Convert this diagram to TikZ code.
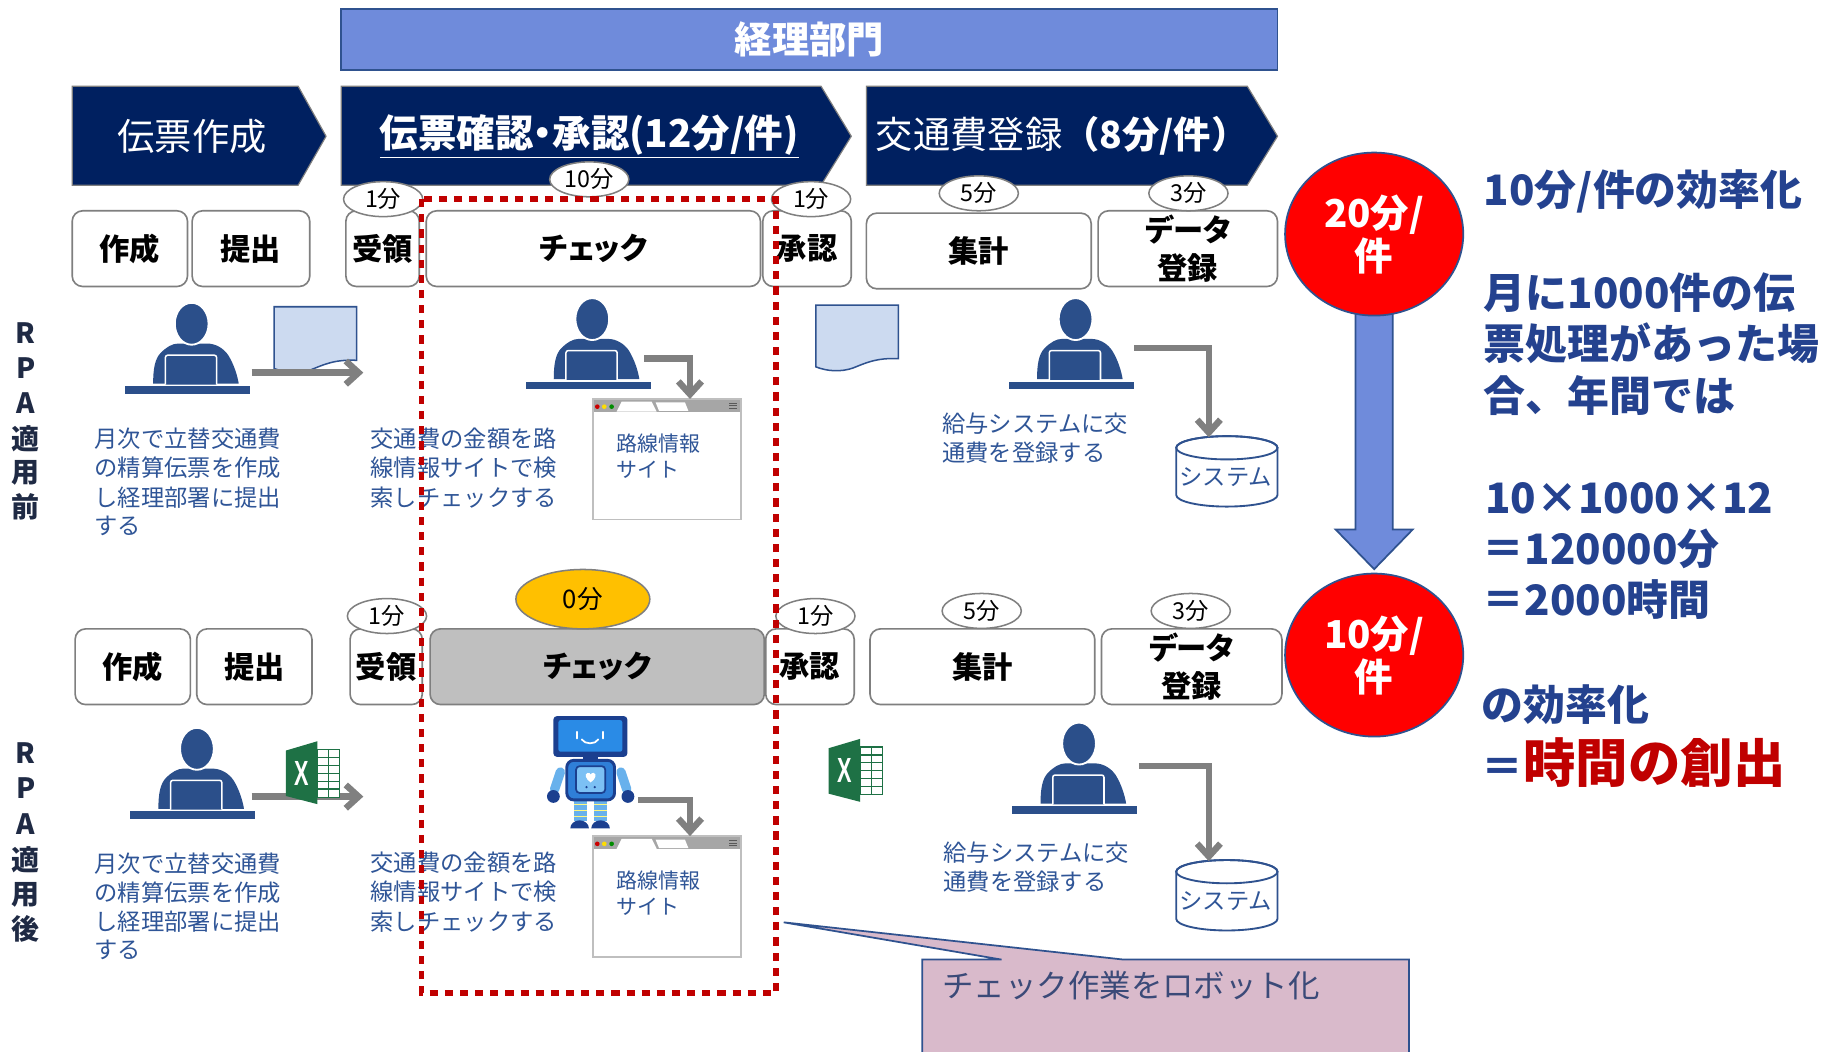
\documentclass[tikz,border=0pt]{standalone}
\usepackage{fontspec}
\setmainfont{Noto Sans CJK JP}
\newfontfamily\jpp{Noto Sans CJK JP}[RawFeature=+palt]
\newfontfamily\xlfont{Liberation Sans}
\usetikzlibrary{arrows.meta,shapes.geometric,calc}
\pgfdeclarelayer{back}
\pgfdeclarelayer{under}
\pgfsetlayers{back,under,main}

\definecolor{navyband}{HTML}{002060}
\definecolor{bannerblue}{HTML}{6F8BDB}
\definecolor{edgeblue}{HTML}{2F528F}
\definecolor{iconnavy}{HTML}{2B4F8A}
\definecolor{desctext}{HTML}{2F5597}
\definecolor{boxgray}{HTML}{7F7F7F}
\definecolor{arrowgray}{HTML}{808080}
\definecolor{checkred}{HTML}{C00000}
\definecolor{gold}{HTML}{FFC000}
\definecolor{docfill}{HTML}{CCDAF0}
\definecolor{bigtext}{HTML}{24428F}
\definecolor{calloutpink}{HTML}{D9BACB}
\definecolor{callouttext}{HTML}{3B4A78}
\definecolor{xlgreen}{HTML}{1E7145}
\definecolor{robotnavy}{HTML}{1B3F8F}
\definecolor{screenblue}{HTML}{2A8BE6}
\definecolor{bodyblue}{HTML}{2F7FD8}
\definecolor{panelblue}{HTML}{7CC0F4}
\definecolor{limbblue}{HTML}{68B1EC}
\definecolor{sidelabel}{HTML}{1F2A44}
\definecolor{tabgray}{HTML}{A6A6A6}
\definecolor{frameline}{HTML}{BFBFBF}
\definecolor{checkfill}{HTML}{BFBFBF}

\newcommand\fsz[2]{\fontsize{#1}{#2}\selectfont}

\tikzset{
  chev/.style={fill=navyband, draw=boxgray, line width=1pt},
  chevtext/.style={text=white, font=\fsz{32}{36}, inner sep=0},
  stepbox/.style={draw=boxgray, line width=1.4pt, fill=white, rounded corners=9pt,
    minimum height=65pt, inner sep=0, font=\jpp\bfseries\fsz{26}{32}, align=center},
  tbubble/.style={ellipse, draw=boxgray, line width=1.3pt, fill=white,
    minimum width=68pt, minimum height=30pt, inner sep=0, font=\fsz{20}{22}},
  desc/.style={anchor=west, inner sep=0, text=desctext, font=\fsz{20}{25}},
  sidech/.style={inner sep=0, text=sidelabel, font=\bfseries\fsz{24}{26}},
  bigline/.style={anchor=west, inner sep=0, text=bigtext, font=\bfseries\fsz{36}{40}},
  garrow/.style={draw=arrowgray, line width=5.5pt, -{Straight Barb[length=11pt,width=20pt]}},
  redc/.style={ellipse, fill=red, draw=edgeblue, line width=1.5pt, minimum width=153pt,
    minimum height=140pt, inner sep=0, text=white, font=\bfseries\fsz{33}{37}, align=center},
  reddash/.style={draw=checkred, line width=5pt, dash pattern=on 7pt off 6pt},
  % seated person at a laptop; origin = centre of the desk bar
  person/.pic={
    \fill[iconnavy] (-53.7,-3.4) rectangle (53.7,3.4);
    \fill[iconnavy] (-29.5,-5.5) .. controls (-29.5,-18) and (-28,-27) .. (-23,-32)
      .. controls (-18,-37) and (-13,-40) .. (-8,-40) -- (17,-40)
      .. controls (24,-40) and (31,-36) .. (35,-30)
      .. controls (40,-22) and (43,-12) .. (44,-5.5) -- cycle;
    \draw[white, fill=iconnavy, line width=1.3pt, rounded corners=2pt]
      (-19,-4.8) -- (-19,-30) -- (25,-30) -- (25,-4.8);
    \fill[iconnavy, draw=white, line width=1.6pt] (3.6,-57) ellipse [x radius=14.5, y radius=18];
  },
  % paper slip with a wavy lower edge; origin = top-left corner
  docicon/.pic={
    \draw[edgeblue, fill=docfill, line width=1.3pt] (0,0) -- (71,0) -- (71,46)
      .. controls (52,45) and (42,50) .. (32,54) .. controls (22,57.5) and (10,57) .. (0,53) -- cycle;
  },
  % browser window of the route-search site; origin = top-left corner
  browser/.pic={
    \fill[white] (0,0) rectangle (126.5,103.5);
    \fill[tabgray] (0,0) rectangle (126.5,10.9);
    \fill[white] (20,10.9) -- (24.3,2.3) -- (50.1,2.3) -- (54.4,10.9) -- cycle;
    \fill[white] (53.5,3) -- (78.7,3) -- (81.6,10.2) -- (56.4,10.2) -- cycle;
    \fill[red!80!black] (3.4,6.6) circle [radius=2];
    \fill[yellow!80!orange] (9.4,6.6) circle [radius=2];
    \fill[green!55!black] (15.7,6.6) circle [radius=2];
    \foreach \yy in {3.7,6,8.3} \draw[gray!70!black, line width=0.9pt] (116.8,\yy) -- (123.6,\yy);
    \draw[frameline, line width=1.6pt] (0,0) rectangle (126.5,103.5);
    \node[desc, font=\fsz{18}{22}] (-l1) at (19.5,38.4) {路線情報};
    \node[desc, font=\fsz{18}{22}] (-l2) at (19.5,60.4) {サイト};
    \coordinate (-in) at (83,0);
  },
  % database cylinder; origin = top-left of its bounding box
  dbicon/.pic={
    \draw[edgeblue, fill=white, line width=1.6pt] (0,10) -- (0,50.5)
      arc[start angle=180, end angle=0, x radius=43.5, y radius=10] -- (87,10)
      arc[start angle=0, end angle=-180, x radius=43.5, y radius=10] -- cycle;
    \draw[edgeblue, line width=1.6pt] (43.5,10) ellipse [x radius=43.5, y radius=10];
    \node[inner sep=0, text=desctext, font=\fsz{20}{22}] (-t) at (42.6,35.5) {システム};
    \coordinate (-in) at (28,1);
  },
  % spreadsheet file icon; origin = left edge of the cover, top of its right edge
  xlicon/.pic={
    \fill[white] (27,7) rectangle (46,48);
    \foreach \yy in {13.8,20.6,27.4,34.2,41} \draw[xlgreen, line width=0.9pt] (27,\yy) -- (46,\yy);
    \draw[xlgreen, line width=0.9pt] (36.5,7) -- (36.5,48);
    \draw[xlgreen, line width=1pt] (27,7) rectangle (46,48);
    \fill[xlgreen] (0,8) -- (27,0) -- (27,54) -- (0,47) -- cycle;
    \node[text=white, font=\xlfont\bfseries\fsz{30}{30}, xscale=0.62, inner sep=0] (-x) at (13.5,27.5) {X};
  },
  % small robot; origin = top-left of its head
  robot/.pic={
    \draw[limbblue, line width=8pt, line cap=round] (6,48) -- (1,63);
    \draw[limbblue, line width=8pt, line cap=round] (58,48) -- (63,63);
    \fill[robotnavy] (0,69) circle [radius=5.5];
    \fill[robotnavy] (64,69) circle [radius=5.5];
    \fill[limbblue] (17.5,71) rectangle (28.5,90);
    \fill[limbblue] (35,71) rectangle (46,90);
    \foreach \yy in {76,81,86} {
      \draw[yellow!50!white, line width=1pt] (17.5,\yy) -- (28.5,\yy);
      \draw[yellow!50!white, line width=1pt] (35,\yy) -- (46,\yy);
    }
    \fill[robotnavy] (14.5,96.5) arc[start angle=180, end angle=360, x radius=8, y radius=7] -- cycle;
    \fill[robotnavy] (32.5,96.5) arc[start angle=180, end angle=360, x radius=8, y radius=7] -- cycle;
    \fill[robotnavy] (25.8,33) rectangle (38.6,39);
    \draw[robotnavy, fill=bodyblue, line width=2.5pt, rounded corners=6pt] (11.5,38) rectangle (52.5,72);
    \draw[robotnavy, fill=panelblue, line width=1.5pt, rounded corners=3pt] (19.5,43) rectangle (44.5,66);
    \fill[white] (32,57) .. controls (27.5,54) and (26.5,49.5) .. (29.4,48.8)
      .. controls (30.8,48.5) and (31.7,49.4) .. (32,50.3)
      .. controls (32.3,49.4) and (33.2,48.5) .. (34.6,48.8)
      .. controls (37.5,49.5) and (36.5,54) .. (32,57) -- cycle;
    \fill[robotnavy] (28.5,61) circle [radius=1.1];
    \fill[robotnavy] (35.5,61) circle [radius=1.1];
    \fill[robotnavy, rounded corners=3pt] (0,0) rectangle (63.5,35);
    \fill[screenblue, rounded corners=2pt] (4.3,3.4) rectangle (59.2,30.6);
    \draw[white, line width=1.5pt, line cap=round] (20,13.5) -- (20,19.2);
    \draw[white, line width=1.5pt, line cap=round] (42.9,13.5) -- (42.9,19.2);
    \draw[white, line width=1.5pt, line cap=round] (24.3,20) .. controls (27,24.5) and (36,24.5) .. (38.6,20);
  }
}

\begin{document}
\begin{tikzpicture}[x=1pt,y=-1pt]
\useasboundingbox (0,0) rectangle (1568,903);
\begin{pgfonlayer}{back}
  \fill[white] (0,0) rectangle (1568,903);
\end{pgfonlayer}

% department banner
\node[draw=edgeblue, fill=bannerblue, line width=1.5pt, minimum width=804pt, minimum height=52pt,
  inner sep=0, text=white, font=\bfseries\fsz{32}{36}] (dept) at (695,34) {経理部門};

% process chevrons
\draw[chev] (62,74) -- (256,74) -- (280,117) -- (256,159) -- (62,159) -- cycle;
\draw[chev] (293,74) -- (705,74) -- (731,117) -- (705,159) -- (293,159) -- cycle;
\draw[chev] (744,74) -- (1071,74) -- (1097,117) -- (1071,159) -- (744,159) -- cycle;
\node[chevtext] (ph1) at (165,117) {伝票作成};
\node[chevtext, font=\jpp\bfseries\fsz{33}{36}] (ph2) at (506,117) {\underline{伝票確認・承認(12分/件)}};
\node[chevtext, anchor=west] (ph3) at (752,117) {交通費登録{\bfseries （8分/件）}};

% task boxes, manual flow
\node[stepbox, minimum width=99pt] (a1) at (111.5,213.5) {作成};
\node[stepbox, minimum width=101pt] (a2) at (215.5,213.5) {提出};
\node[stepbox, minimum width=63pt] (a3) at (328.5,213.5) {受領};
\node[stepbox, minimum width=287pt] (a4) at (509.5,213.5) {チェック};
\node[stepbox, minimum width=76pt] (a5) at (693,213.5) {承認};
\node[stepbox, minimum width=193pt] (a6) at (840.5,215.5) {集計};
\node[stepbox, minimum width=154pt] (a7) at (1020,213.5) {データ\\登録};

% task boxes, automated flow
\node[stepbox, minimum width=99pt] (b1) at (114,572.5) {作成};
\node[stepbox, minimum width=99pt] (b2) at (218.4,572.5) {提出};
\node[stepbox, minimum width=62pt] (b3) at (331.6,572.5) {受領};
\node[stepbox, minimum width=287pt, fill=checkfill] (b4) at (512.8,572.5) {チェック};
\node[stepbox, minimum width=76pt] (b5) at (695.5,572.5) {承認};
\node[stepbox, minimum width=193pt] (b6) at (843.6,572.5) {集計};
\node[stepbox, minimum width=155pt] (b7) at (1023.3,572.5) {データ\\登録};

% minutes per task
\node[tbubble] (ta3) at (329,171) {1分};
\node[tbubble] (ta4) at (506,154) {10分};
\node[tbubble] (ta5) at (696.5,171) {1分};
\node[tbubble] (ta6) at (840.5,166) {5分};
\node[tbubble] (ta7) at (1020.5,166) {3分};
\node[tbubble] (tb3) at (332.3,529) {1分};
\node[tbubble, fill=gold, minimum width=115pt, minimum height=51pt, font=\fsz{22}{24}] (tb4) at (500.5,514.5) {0分};
\node[tbubble] (tb5) at (700.2,529) {1分};
\node[tbubble] (tb6) at (843,524.6) {5分};
\node[tbubble] (tb7) at (1022.5,524.6) {3分};

% row captions
\foreach \ch/\yy [count=\i] in {R/286,P/316,A/346,適/377,用/406,前/435}
  \node[sidech] (sa\i) at (22,\yy) {\ch};
\foreach \ch/\yy [count=\i] in {R/647,P/677,A/708,適/738,用/768,後/798}
  \node[sidech] (sb\i) at (22,\yy) {\ch};

% icons, manual flow
\pic (pa1) at (161,335) {person};
\pic (pa2) at (505,331) {person};
\pic (pa3) at (920,331) {person};
\pic (doc1) at (235.3,263.4) {docicon};
\pic (doc2) at (700.5,262) {docicon};
\pic (bra) at (509.5,342.6) {browser};
\pic (dba) at (1010,374.5) {dbicon};

% icons, automated flow
\pic (pb1) at (165.5,700) {person};
\pic (pb3) at (923,695.5) {person};
\pic (bot) at (475.2,614.9) {robot};
\pic (brb) at (509.5,718) {browser};
\pic (dbb) at (1010,738.5) {dbicon};

% hand-over arrows
\coordinate (ha1s) at (216,320);
\coordinate (ha1e) at (312,320);
\coordinate (ha2s) at (553,308);
\coordinate (ha3s) at (974,299);
\coordinate (hb1s) at (216,684);
\coordinate (hb1e) at (312,684);
\coordinate (hb2s) at (548,687);
\coordinate (hb3s) at (978,658);
\draw[garrow] (ha1s) -- (ha1e);
\draw[garrow] (ha2s) -| (bra-in);
\draw[garrow] (ha3s) -| (dba-in);
\draw[garrow] (hb1s) -- (hb1e);
\draw[garrow] (hb2s) -| (brb-in);
\draw[garrow] (hb3s) -| (dbb-in);

\pic (xl1) at (245.5,636.5) {xlicon};
\pic (xl2) at (711.5,634.5) {xlicon};

% task descriptions
\foreach \t [count=\i] in {月次で立替交通費,の精算伝票を作成,し経理部署に提出,する}
  \node[desc] (da\i) at (81,{377+25*(\i-1)}) {\t};
\foreach \t [count=\i] in {交通費の金額を路,線情報サイトで検,索しチェックする}
  \node[desc] (ea\i) at (318,{377+25*(\i-1)}) {\t};
\foreach \t [count=\i] in {給与システムに交,通費を登録する}
  \node[desc] (fa\i) at (809,{364+25*(\i-1)}) {\t};
\foreach \t [count=\i] in {月次で立替交通費,の精算伝票を作成,し経理部署に提出,する}
  \node[desc] (db\i) at (81,{742+24.7*(\i-1)}) {\t};
\foreach \t [count=\i] in {交通費の金額を路,線情報サイトで検,索しチェックする}
  \node[desc] (eb\i) at (318,{741+25*(\i-1)}) {\t};
\foreach \t [count=\i] in {給与システムに交,通費を登録する}
  \node[desc] (fb\i) at (810,{732+25*(\i-1)}) {\t};

% time per slip, before and after
\node[redc] (c20) at (1180,201) {20分/\\件};
\node[redc] (c10) at (1180,562.5) {10分/\\件};
\begin{pgfonlayer}{under}
  \coordinate (tipc) at ($(c10.north)+(0,-3)$);
  \draw[edgeblue, fill=bannerblue, line width=1.5pt]
    ($(c20.south)+(-16,-12)$) -- ($(tipc)+(-16,-34)$) -- ($(tipc)+(-33,-34)$) -- (tipc)
    -- ($(tipc)+(33,-34)$) -- ($(tipc)+(16,-34)$) -- ($(c20.south)+(16,-12)$) -- cycle;
\end{pgfonlayer}

% savings summary
\node[bigline] (r1) at (1274,164) {10分/件の効率化};
\node[bigline] (r2) at (1274,251) {月に1000件の伝};
\node[bigline] (r3) at (1274,295) {票処理があった場};
\node[bigline] (r4) at (1274,340) {合、年間では};
\node[bigline] (r5) at (1275,428) {10×1000×12};
\node[bigline] (r6) at (1273,471) {＝120000分};
\node[bigline] (r7) at (1273,515) {＝2000時間};
\node[bigline] (r8) at (1272,605) {の効率化};
\node[bigline] (r9) at (1272,655) {＝\textcolor{checkred}{\fsz{45}{48}時間の創出}};

% automated check area
\draw[reddash] (362,171) rectangle (666,853);

% callout
\coordinate (cpt) at (673,792);
\draw[edgeblue, fill=calloutpink, line width=1.5pt]
  (792,906) -- (792,824) -- (860,824) -- (cpt) -- (965,824) -- (1210,824) -- (1210,906);
\node[anchor=west, inner sep=0, text=callouttext, font=\fsz{27}{30}] (note) at (809,846) {チェック作業をロボット化};
\end{tikzpicture}
\end{document}
